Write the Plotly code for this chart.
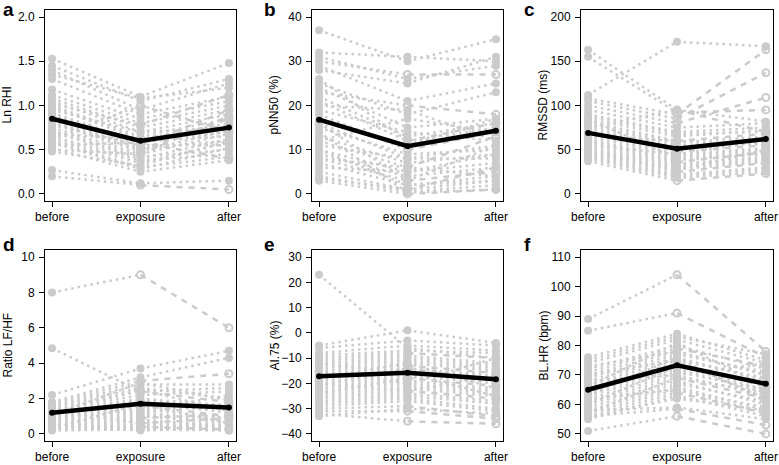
import plotly.graph_objects as go

categories = ["before", "exposure", "after"]

# ---- panel a: Ln RHI ----
a_before = [1.53, 1.45, 1.40, 1.35, 1.30, 1.18, 1.12, 1.08, 1.05, 1.02, 1.00, 0.98, 0.95, 0.92, 0.90, 0.88, 0.85, 0.82,
            0.80, 0.78, 0.75, 0.72, 0.70, 0.68, 0.65, 0.62, 0.60, 0.58, 0.55, 0.52, 0.50, 0.48, 0.27, 0.20, 0.62]
a_exposure = [1.10, 1.05, 0.95, 1.08, 0.90, 0.85, 0.80, 0.75, 0.70, 0.78, 0.65, 0.62, 0.70, 0.58, 0.55, 0.60, 0.52, 0.50,
              0.48, 0.55, 0.45, 0.42, 0.40, 0.62, 0.38, 0.35, 0.30, 0.28, 0.58, 0.25, 0.45, 0.32, 0.12, 0.10, 1.00]
a_after = [1.48, 1.30, 1.25, 1.20, 1.10, 1.05, 1.00, 0.95, 0.90, 1.12, 0.85, 0.80, 0.75, 0.70, 0.95, 0.65, 0.60, 0.85,
           0.72, 0.55, 0.68, 0.50, 0.62, 0.78, 0.45, 0.58, 0.42, 0.52, 0.40, 0.38, 0.88, 0.60, 0.15, 0.05, 0.70]
a_mean = [0.85, 0.60, 0.75]
a_alt = [9, 14, 17, 23, 28, 30, 34, 33]

# ---- panel b: pNN50 (%) ----
b_before = [37, 32, 31, 30, 29, 28, 25, 24, 23, 22, 21, 19, 18, 17, 16, 15, 13, 12, 11, 10, 9, 8, 7, 6, 5, 4, 3,
            12, 20, 26, 14, 10, 8, 3.5, 16]
b_exposure = [30, 31, 26, 27, 21, 25, 18, 15, 20, 13, 12, 14, 10, 11, 8, 9, 7, 6, 8, 5, 4, 3, 2, 5, 1, 0.5, 0,
              17, 19, 12, 0.3, 2, 6, 1, 3]
b_after = [35, 30, 29, 27, 25, 31, 23, 17, 18, 16, 15, 12, 14, 17, 11, 10, 9, 13, 8, 7, 6, 5, 4, 9, 3, 2, 1,
           14, 12, 16, 1, 3, 4, 6, 11]
b_mean = [16.8, 10.8, 14.3]
b_alt = [3, 8, 12, 17, 21, 26, 29, 33]

# ---- panel c: RMSSD (ms) ----
c_before = [163, 155, 112, 108, 105, 100, 95, 90, 88, 85, 82, 80, 78, 75, 72, 70, 68, 65, 62, 60, 58, 55, 52, 50,
            48, 46, 44, 42, 40, 37, 65, 55, 75, 85, 47]
c_exposure = [95, 92, 172, 90, 85, 80, 75, 70, 68, 65, 60, 58, 55, 52, 50, 48, 45, 43, 40, 38, 36, 34, 32, 30,
              28, 25, 22, 20, 18, 15, 60, 45, 95, 40, 27]
c_after = [82, 95, 167, 163, 137, 109, 80, 75, 70, 72, 68, 65, 60, 62, 58, 55, 52, 50, 48, 45, 47, 42, 40, 38,
           36, 35, 30, 28, 25, 23, 55, 60, 70, 45, 50]
c_mean = [69, 51, 62]
c_alt = [1, 3, 4, 5, 10, 15, 20, 25, 29, 32]

# ---- panel d: Ratio LF/HF ----
d_before = [8.0, 4.85, 2.2, 1.8, 1.7, 1.6, 1.5, 1.4, 1.3, 1.2, 1.1, 1.0, 0.9, 0.85, 0.8, 0.75, 0.7, 0.65, 0.6, 0.55,
            0.5, 0.45, 0.4, 0.35, 0.3, 0.25, 0.2, 1.25, 0.95, 0.55, 1.35, 0.3, 1.05, 0.45, 1.5]
d_exposure = [9.0, 2.4, 3.7, 3.2, 3.0, 2.8, 2.6, 2.4, 2.2, 2.0, 1.9, 1.8, 1.6, 1.5, 1.4, 1.2, 1.1, 1.0, 0.9, 0.8,
              0.7, 0.6, 0.5, 0.45, 0.4, 0.3, 0.25, 2.5, 1.3, 0.35, 0.6, 1.7, 2.9, 0.2, 1.2]
d_after = [6.0, 2.6, 4.7, 4.3, 3.4, 2.8, 2.0, 1.8, 2.4, 1.6, 1.5, 1.2, 1.0, 1.4, 0.9, 0.8, 0.7, 0.6, 1.1, 0.5,
           0.45, 0.4, 0.35, 0.3, 0.25, 0.2, 0.2, 1.3, 2.2, 0.5, 0.9, 0.6, 1.9, 0.3, 1.7]
d_mean = [1.2, 1.7, 1.5]
d_alt = [0, 4, 7, 12, 18, 24, 30]

# ---- panel e: AI.75 (%) ----
e_before = [23, -5, -6, -8, -9, -10, -11, -12, -13, -14, -15, -16, -17, -18, -19, -20, -21, -22, -23, -24, -25,
            -26, -27, -28, -29, -30, -31, -32, -33, -18, -15, -21, -24, -12, -20]
e_exposure = [-6, 1, -3, -5, -7, -8, -9, -10, -11, -12, -13, -14, -15, -16, -17, -18, -19, -20, -21, -22, -23,
              -24, -25, -26, -27, -29, -31, -35, -30, -12, -20, -14, -18, -16, -23]
e_after = [-10, -4, -5, -7, -8, -10, -12, -13, -14, -15, -16, -17, -18, -19, -20, -21, -22, -23, -24, -25, -26,
           -27, -28, -30, -31, -33, -34, -36, -32, -22, -10, -19, -15, -25, -17]
e_mean = [-17.2, -15.8, -18.4]
e_alt = [5, 10, 15, 20, 25, 26, 27, 31]

# ---- panel f: BL.HR (bpm) ----
f_before = [89, 85, 76, 75, 74, 72, 71, 70, 69, 68, 67, 66, 65, 64, 63, 62, 61, 60, 59, 58, 57, 56, 55, 55.5,
            58, 56, 51, 66, 63, 68, 60, 73, 62, 57, 70]
f_exposure = [104, 91, 84, 83, 82, 80, 79, 78, 77, 76, 75, 74, 73, 72, 71, 70, 69, 68, 67, 66, 65, 64, 63, 62,
              59, 58.5, 56, 81, 76, 70, 73, 78, 65, 69, 75]
f_after = [78, 76, 75, 77, 74, 72, 73, 70, 71, 68, 69, 66, 67, 64, 65, 63, 62, 60, 61, 58, 59, 57, 56, 58,
           55, 53, 50, 66, 61, 74, 65, 70, 57, 64, 62]
f_mean = [65, 73.3, 67]
f_alt = [0, 1, 6, 11, 16, 21, 25, 26]

panels = [
    dict(letter="a", title="Ln RHI", v=(a_before, a_exposure, a_after), mean=a_mean, alt=a_alt,
         tickvals=[0, 0.5, 1.0, 1.5, 2.0], ticktext=["0.0", "0.5", "1.0", "1.5", "2.0"]),
    dict(letter="b", title="pNN50 (%)", v=(b_before, b_exposure, b_after), mean=b_mean, alt=b_alt,
         tickvals=[0, 10, 20, 30, 40], ticktext=["0", "10", "20", "30", "40"]),
    dict(letter="c", title="RMSSD (ms)", v=(c_before, c_exposure, c_after), mean=c_mean, alt=c_alt,
         tickvals=[0, 50, 100, 150, 200], ticktext=["0", "50", "100", "150", "200"]),
    dict(letter="d", title="Ratio LF/HF", v=(d_before, d_exposure, d_after), mean=d_mean, alt=d_alt,
         tickvals=[0, 2, 4, 6, 8, 10], ticktext=["0", "2", "4", "6", "8", "10"]),
    dict(letter="e", title="AI.75 (%)", v=(e_before, e_exposure, e_after), mean=e_mean, alt=e_alt,
         tickvals=[-40, -30, -20, -10, 0, 10, 20, 30],
         ticktext=["\u221240", "\u221230", "\u221220", "\u221210", "0", "10", "20", "30"]),
    dict(letter="f", title="BL.HR (bpm)", v=(f_before, f_exposure, f_after), mean=f_mean, alt=f_alt,
         tickvals=[50, 60, 70, 80, 90, 100, 110], ticktext=["50", "60", "70", "80", "90", "100", "110"]),
]

W, H = 779, 465
cols = [(45, 236), (312, 503), (581, 773)]
rows = [(10, 201), (250, 441)]
GREY = "#cbcbcb"
DOT = "2.5px,4px"
DASH = "6px,6px"
FONT = "Liberation Sans, Arial, Helvetica, sans-serif"

fig = go.Figure()
layout = dict(width=W, height=H, margin=dict(l=0, r=0, t=0, b=0, autoexpand=False), showlegend=False,
              paper_bgcolor="white", plot_bgcolor="white", font=dict(family=FONT, size=12, color="black"))
annotations = []

for i, p in enumerate(panels):
    k = i + 1
    xa = "x" if k == 1 else f"x{k}"
    ya = "y" if k == 1 else f"y{k}"
    bef, exp_, aft = p["v"]
    n = len(bef)
    alt = set(p["alt"])
    # first segments (before -> exposure), dotted
    xs, ys = [], []
    for j in range(n):
        xs += [1, 2, None]
        ys += [bef[j], exp_[j], None]
    fig.add_trace(go.Scatter(x=xs, y=ys, mode="lines", xaxis=xa, yaxis=ya, hoverinfo="skip",
                             line=dict(color=GREY, width=2.5, dash=DOT)))
    # second segments (exposure -> after)
    for dashed in (False, True):
        xs, ys = [], []
        for j in range(n):
            if (j in alt) == dashed:
                xs += [2, 3, None]
                ys += [exp_[j], aft[j], None]
        fig.add_trace(go.Scatter(x=xs, y=ys, mode="lines", xaxis=xa, yaxis=ya, hoverinfo="skip",
                                 line=dict(color=GREY, width=2.5, dash=DASH if dashed else DOT)))
    # markers
    mx, my, ox, oy = [], [], [], []
    for j in range(n):
        mx.append(1); my.append(bef[j])
        if j in alt:
            ox += [2, 3]; oy += [exp_[j], aft[j]]
        else:
            mx += [2, 3]; my += [exp_[j], aft[j]]
    fig.add_trace(go.Scatter(x=mx, y=my, mode="markers", xaxis=xa, yaxis=ya,
                             marker=dict(color=GREY, size=8, line=dict(width=0))))
    fig.add_trace(go.Scatter(x=ox, y=oy, mode="markers", xaxis=xa, yaxis=ya,
                             marker=dict(color=GREY, size=7, symbol="circle-open", line=dict(width=2, color=GREY))))
    # mean line
    fig.add_trace(go.Scatter(x=[1, 2, 3], y=p["mean"], mode="lines+markers", xaxis=xa, yaxis=ya,
                             line=dict(color="black", width=4.5), marker=dict(color="black", size=6)))

    r, c = divmod(i, 3)
    x0, x1 = cols[c]
    y0, y1 = rows[r]
    tv = p["tickvals"]
    span = tv[-1] - tv[0]
    axis_common = dict(showline=True, linecolor="black", linewidth=1, mirror=True, ticks="outside",
                       ticklen=5, tickwidth=1, tickcolor="black", showgrid=False, zeroline=False,
                       automargin=False, tickfont=dict(family=FONT, size=12, color="black"))
    layout["xaxis" if k == 1 else f"xaxis{k}"] = dict(
        axis_common, domain=[x0 / W, x1 / W], range=[0.92, 3.08], anchor=ya,
        tickvals=[1, 2, 3], ticktext=categories)
    layout["yaxis" if k == 1 else f"yaxis{k}"] = dict(
        axis_common, domain=[1 - y1 / H, 1 - y0 / H], range=[tv[0] - 0.04 * span, tv[-1] + 0.04 * span],
        anchor=xa, tickvals=tv, ticktext=p["ticktext"], ticklabelstandoff=2)
    # panel letter
    lx = [1, 262, 522][c]
    ly = [9, 244][r]
    annotations.append(dict(text=f"<b>{p['letter']}</b>", x=lx / W, y=1 - ly / H, xref="paper", yref="paper",
                            xanchor="left", yanchor="middle", showarrow=False,
                            font=dict(family=FONT, size=19, color="black")))
    # y title
    annotations.append(dict(text=p["title"], x=(x0 - 38) / W, y=1 - (y0 + y1) / 2 / H, xref="paper", yref="paper",
                            xanchor="center", yanchor="middle", textangle=-90, showarrow=False,
                            font=dict(family=FONT, size=12, color="black")))

layout["annotations"] = annotations
fig.update_layout(**layout)
fig.write_html("out.html", config={"displayModeBar": False},
               post_script="document.body.style.margin='0';document.body.style.padding='0';"
                           "document.body.style.overflow='hidden';")
